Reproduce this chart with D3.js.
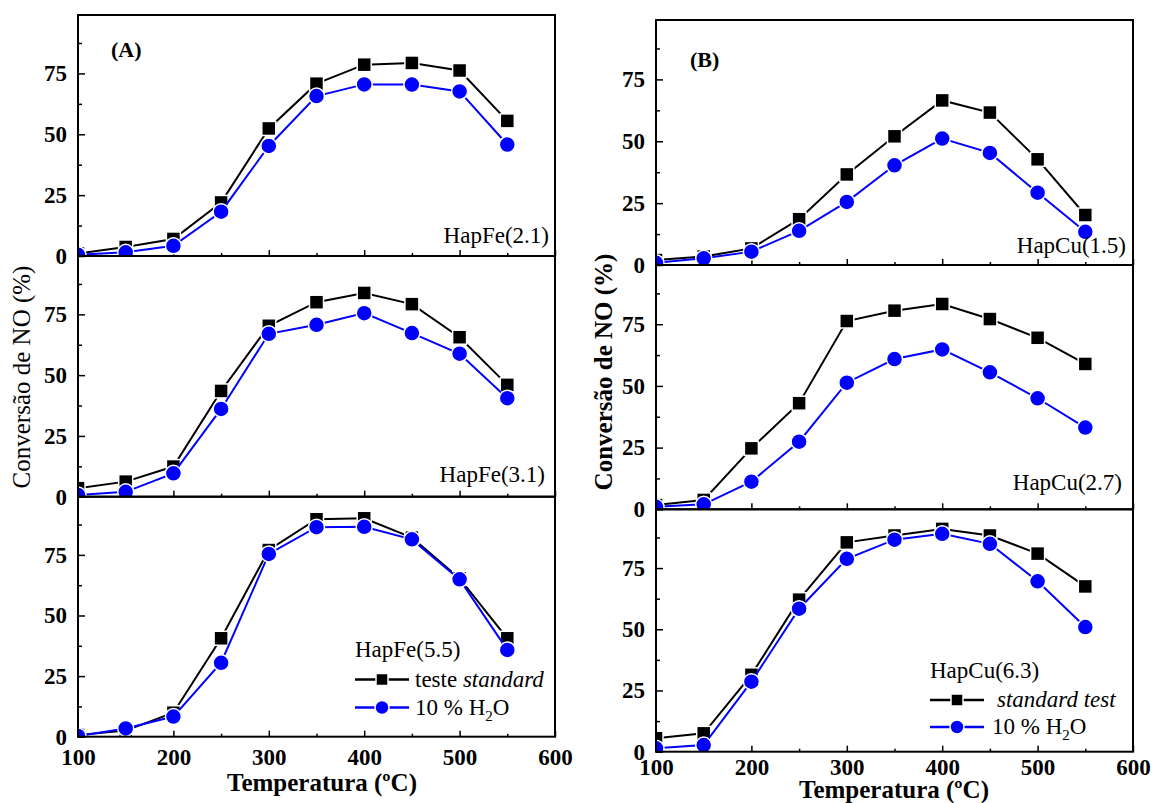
<!DOCTYPE html>
<html>
<head>
<meta charset="utf-8">
<script src="https://cdn.jsdelivr.net/npm/d3@7/dist/d3.min.js"></script>
<style>
  body { margin: 0; background: #fff; }
  svg text { font-family: "Liberation Serif", "Times New Roman", serif; }
</style>
</head>
<body>
<svg id="chart" width="1155" height="803"></svg>
<script>
// temperatures (x) shared by every curve
const temps = [100, 150, 200, 250, 300, 350, 400, 450, 500, 550];
const xMajor = [100, 200, 300, 400, 500, 600];
const xMinor = [150, 250, 350, 450, 550];
const yMajor = [0, 25, 50, 75];
const yMinor = [12.5, 37.5, 62.5, 87.5];

// panel A - HapFe
const fe21Std = [1.0, 3.7, 7.0, 22.0, 52.4, 70.8, 78.6, 79.3, 76.2, 55.5];
const fe21H2O = [0.5, 1.5, 4.2, 18.2, 45.2, 65.7, 70.5, 70.4, 67.6, 45.8];
const fe31Std = [3.5, 6.2, 12.4, 43.5, 70.3, 80.0, 83.8, 79.2, 65.6, 46.0];
const fe31H2O = [0.7, 2.0, 9.6, 36.1, 67.0, 70.7, 75.5, 67.3, 58.8, 40.5];
const fe55Std = [0.7, 2.5, 9.9, 40.6, 77.0, 89.7, 90.1, 82.1, 65.3, 40.6];
const fe55H2O = [0.3, 3.4, 8.3, 30.5, 75.4, 86.4, 86.6, 81.4, 64.9, 35.8];

// panel B - HapCu
const cu15Std = [2.0, 3.4, 6.7, 18.5, 36.6, 52.0, 66.5, 61.6, 42.7, 20.2];
const cu15H2O = [0.9, 2.7, 5.4, 13.8, 25.5, 40.3, 51.1, 45.3, 29.2, 13.4];
const cu27Std = [1.7, 3.8, 24.7, 43.0, 76.3, 80.5, 83.2, 77.1, 69.5, 58.9];
const cu27H2O = [1.0, 2.0, 11.2, 27.4, 51.3, 60.9, 64.8, 55.5, 45.0, 33.1];
const cu63Std = [5.5, 7.5, 31.4, 62.1, 85.5, 88.3, 91.0, 88.3, 80.9, 67.5];
const cu63H2O = [1.4, 2.7, 28.6, 58.4, 78.8, 86.6, 89.0, 84.9, 69.6, 50.9];

const svg = d3.select('#chart');
const BLUE = '#0000ff';
const LABEL_SIZE = 23;

const panels = [
  {
    id: 'A', x0: 78, x1: 555, edges: [15, 256, 496.7, 736.7],
    tag: '(A)', tagX: 111, tagY: 57,
    subs: [
      { std: fe21Std, h2o: fe21H2O, name: 'HapFe(2.1)', nx: 549, ny: 243 },
      { std: fe31Std, h2o: fe31H2O, name: 'HapFe(3.1)', nx: 545, ny: 482 },
      { std: fe55Std, h2o: fe55H2O, name: 'HapFe(5.5)' }
    ],
    legend: { x: 355, y: 657, row1: 679.5, row2: 707.5, tx: 415, stdLabel: 'teste' },
    yTitle: { text: 'Conversão de NO (%)', x: 30, y: 377, bold: false, size: 25 },
    xTitle: { x: 322, y: 791 },
    xLabelPad: 12
  },
  {
    id: 'B', x0: 656, x1: 1133, edges: [20, 265, 509.3, 751.7],
    tag: '(B)', tagX: 690, tagY: 67,
    subs: [
      { std: cu15Std, h2o: cu15H2O, name: 'HapCu(1.5)', nx: 1126, ny: 253 },
      { std: cu27Std, h2o: cu27H2O, name: 'HapCu(2.7)', nx: 1122, ny: 490 },
      { std: cu63Std, h2o: cu63H2O, name: 'HapCu(6.3)' }
    ],
    legend: { x: 930, y: 678, row1: 700, row2: 727, tx: 992, stdLabel: null },
    yTitle: { text: 'Conversão de NO (%)', x: 612, y: 372, bold: true, size: 25 },
    xTitle: { x: 894, y: 798 },
    xLabelPad: 7
  }
];

function drawSquare(g, cx, cy, s) {
  g.append('rect')
    .attr('x', cx - s / 2).attr('y', cy - s / 2)
    .attr('width', s).attr('height', s)
    .attr('fill', '#000').attr('stroke', '#fff').attr('stroke-width', 1.5);
}

function drawCircle(g, cx, cy, r) {
  g.append('circle')
    .attr('cx', cx).attr('cy', cy).attr('r', r)
    .attr('fill', BLUE).attr('stroke', '#fff').attr('stroke-width', 1.5);
}

panels.forEach(p => {
  const x = d3.scaleLinear().domain([100, 600]).range([p.x0, p.x1]);

  p.subs.forEach((s, i) => {
    const top = p.edges[i], bottom = p.edges[i + 1];
    const y = d3.scaleLinear().domain([0, 99]).range([bottom, top]);
    const g = svg.append('g');
    const clipId = 'clip' + p.id + i;
    g.append('clipPath').attr('id', clipId)
      .append('rect').attr('x', p.x0).attr('y', top)
      .attr('width', p.x1 - p.x0).attr('height', bottom - top);

    // axes (ticks point inward)
    const isLast = i === p.subs.length - 1;
    g.append('g').attr('transform', `translate(0,${bottom})`)
      .call(d3.axisBottom(x).tickValues(xMajor).tickSize(-6).tickPadding(p.xLabelPad)
        .tickFormat(isLast ? d3.format('d') : () => ''));
    g.append('g').attr('transform', `translate(0,${bottom})`)
      .call(d3.axisBottom(x).tickValues(xMinor).tickSize(-3).tickFormat(() => ''));
    g.append('g').attr('transform', `translate(${p.x0},0)`)
      .call(d3.axisLeft(y).tickValues(yMajor).tickSize(-7).tickPadding(11).tickFormat(d3.format('d')));
    g.append('g').attr('transform', `translate(${p.x0},0)`)
      .call(d3.axisLeft(y).tickValues(yMinor).tickSize(-4).tickFormat(() => ''));
    g.selectAll('.domain').remove();
    g.selectAll('.tick line').attr('stroke', '#000').attr('stroke-width', 1.5);
    g.selectAll('.tick text').attr('fill', '#000')
      .style('font-family', '"Liberation Serif", serif')
      .style('font-weight', 'bold').style('font-size', '23px');

    // data
    const plot = g.append('g').attr('clip-path', `url(#${clipId})`);
    const line = d3.line().x((d, j) => x(temps[j])).y(d => y(d));
    plot.append('path').datum(s.std).attr('d', line)
      .attr('fill', 'none').attr('stroke', '#000').attr('stroke-width', 2);
    s.std.forEach((v, j) => drawSquare(plot, x(temps[j]), y(v), 14));
    plot.append('path').datum(s.h2o).attr('d', line)
      .attr('fill', 'none').attr('stroke', BLUE).attr('stroke-width', 2);
    s.h2o.forEach((v, j) => drawCircle(plot, x(temps[j]), y(v), 8));

    // frame
    g.append('rect').attr('x', p.x0).attr('y', top)
      .attr('width', p.x1 - p.x0).attr('height', bottom - top)
      .attr('fill', 'none').attr('stroke', '#000').attr('stroke-width', 2);

    // sample name / legend
    if (!isLast) {
      g.append('text').attr('x', s.nx).attr('y', s.ny)
        .attr('text-anchor', 'end').style('font-size', LABEL_SIZE + 'px').text(s.name);
    } else {
      const L = p.legend;
      g.append('text').attr('x', L.x).attr('y', L.y).style('font-size', LABEL_SIZE + 'px').text(s.name);
      const lw = 54;
      g.append('line').attr('x1', L.x).attr('x2', L.x + lw).attr('y1', L.row1).attr('y2', L.row1)
        .attr('stroke', '#000').attr('stroke-width', 2.5);
      drawSquare(g, L.x + lw / 2, L.row1, 12);
      g.append('line').attr('x1', L.x).attr('x2', L.x + lw).attr('y1', L.row2).attr('y2', L.row2)
        .attr('stroke', BLUE).attr('stroke-width', 2.5);
      drawCircle(g, L.x + lw / 2, L.row2, 7);
      const t1 = g.append('text').attr('x', L.tx).attr('y', L.row1 + 7).style('font-size', LABEL_SIZE + 'px');
      if (L.stdLabel) {
        t1.append('tspan').text(L.stdLabel + ' ');
        t1.append('tspan').style('font-style', 'italic').text('standard');
      } else {
        t1.attr('x', L.tx + 5).append('tspan').style('font-style', 'italic').text('standard test');
      }
      const t2 = g.append('text').attr('x', L.tx).attr('y', L.row2 + 7).style('font-size', LABEL_SIZE + 'px');
      t2.append('tspan').text('10 % H');
      t2.append('tspan').attr('dy', 6).style('font-size', '15px').text('2');
      t2.append('tspan').attr('dy', -6).text('O');
    }
  });

  // panel tag
  svg.append('text').attr('x', p.tagX).attr('y', p.tagY)
    .style('font-size', '22px').style('font-weight', 'bold').text(p.tag);

  // axis titles
  svg.append('text')
    .attr('transform', `translate(${p.yTitle.x},${p.yTitle.y}) rotate(-90)`)
    .attr('text-anchor', 'middle')
    .style('font-size', p.yTitle.size + 'px')
    .style('font-weight', p.yTitle.bold ? 'bold' : 'normal')
    .text(p.yTitle.text);
  svg.append('text').attr('x', p.xTitle.x).attr('y', p.xTitle.y)
    .attr('text-anchor', 'middle')
    .style('font-size', '25px').style('font-weight', 'bold')
    .text('Temperatura (ºC)');
});
</script>
</body>
</html>
